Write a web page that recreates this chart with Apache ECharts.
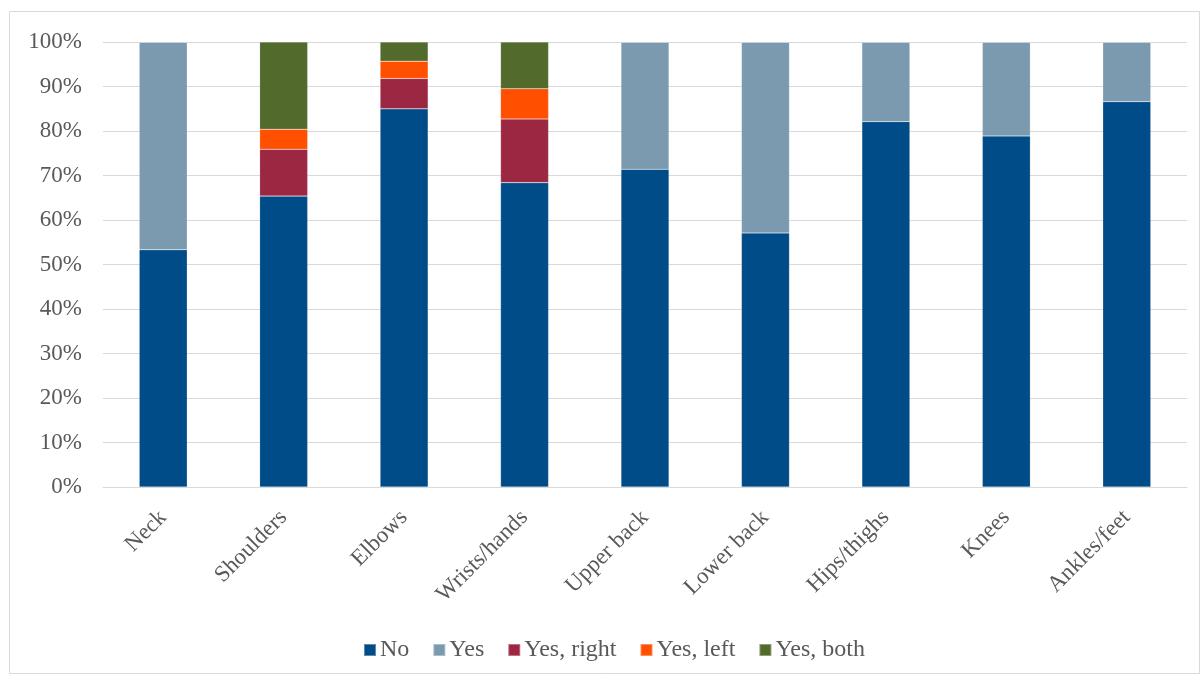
<!DOCTYPE html>
<html><head><meta charset="utf-8">
<script src="https://cdn.jsdelivr.net/npm/echarts@6/dist/echarts.min.js"></script>
<style>html,body{margin:0;padding:0;background:#fff}#c{width:1203px;height:676px}</style>
</head><body><div id="c"></div>
<script>
const categories = ['Neck','Shoulders','Elbows','Wrists/hands','Upper back','Lower back','Hips/thighs','Knees','Ankles/feet'];
const seriesNames = ['No','Yes','Yes, right','Yes, left','Yes, both'];
const noVals    = [53.3, 65.4, 85.0, 68.4, 71.4, 57.1, 82.1, 78.9, 86.6];
const yesVals   = [46.7, 0, 0, 0, 28.6, 42.9, 17.9, 21.1, 13.4];
const rightVals = [0, 10.5, 6.8, 14.3, 0, 0, 0, 0, 0];
const leftVals  = [0, 4.5, 3.9, 6.8, 0, 0, 0, 0, 0];
const bothVals  = [0, 19.6, 4.3, 10.5, 0, 0, 0, 0, 0];
const colors = ['#004C88','#7B9AAF','#9B2743','#FF5000','#536A2D'];
const allVals = [noVals, yesVals, rightVals, leftVals, bothVals];
const font = '"Liberation Serif", "Times New Roman", serif';
const chart = echarts.init(document.getElementById('c'));
chart.setOption({
  animation: false,
  textStyle: {fontFamily: font},
  graphic: [{type:'rect', shape:{x:9.5,y:11.5,width:1190,height:662}, style:{fill:'none', stroke:'#d9d9d9', lineWidth:1}, silent:true}],
  grid: {left: 103, right: 16, top: 42, bottom: 189},
  legend: {
    top: 633, left: 358, itemWidth: 12, itemHeight: 12, itemGap: 23,
    icon: 'rect',
    textStyle: {fontFamily: font, fontSize: 24, color: '#595959', padding:[0,0,0,-1]},
    data: seriesNames
  },
  xAxis: {
    type: 'category', data: categories,
    axisLine: {lineStyle: {color: '#d9d9d9', width: 1}},
    axisTick: {show: false},
    axisLabel: {rotate: 45, interval: 0, fontFamily: font, fontSize: 23, color: '#595959', margin: 27}
  },
  yAxis: {
    type: 'value', min: 0, max: 100, interval: 10,
    axisLabel: {formatter: '{value}%', fontFamily: font, fontSize: 23, color: '#595959', margin: 21},
    splitLine: {lineStyle: {color: '#d9d9d9', width: 1}},
    axisLine: {show: false}, axisTick: {show: false}
  },
  series: seriesNames.map((n, i) => ({
    name: n, type: 'bar', stack: 'total', barWidth: 48,
    itemStyle: {color: colors[i], borderColor: 'rgba(255,255,255,0.35)', borderWidth: 0.5},
    data: allVals[i]
  }))
});
</script></body></html>
